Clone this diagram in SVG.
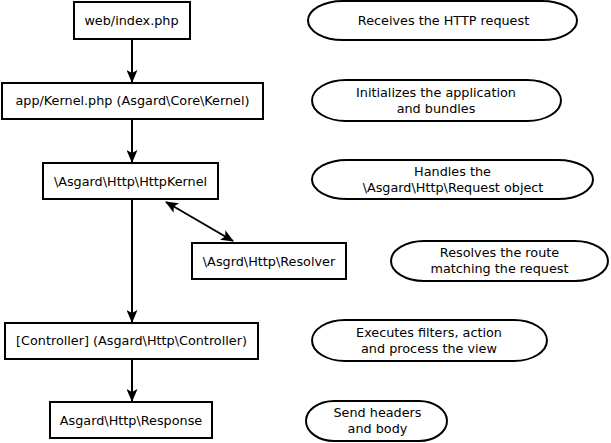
<svg xmlns="http://www.w3.org/2000/svg" width="611" height="443" viewBox="0 0 611 443">
<style>
.box{fill:#fff;stroke:#000;stroke-width:2}
.ell{fill:#fff;stroke:#000;stroke-width:2}
.t{font-family:"DejaVu Sans",sans-serif;font-size:12.8px;fill:#000;text-anchor:middle}
.c{stroke:#000;stroke-width:2;fill:none}
</style>
<defs>
<marker id="ah" viewBox="0 0 13 11" refX="12" refY="5.5" markerWidth="13" markerHeight="11" markerUnits="userSpaceOnUse" orient="auto-start-reverse">
<path d="M0,0 L13,5.5 L0,11 L3,5.5 Z" fill="#000"/>
</marker>
</defs>
<g id="connectors">
<line class="c" x1="132" y1="39" x2="132" y2="82" marker-end="url(#ah)"/>
<line class="c" x1="132" y1="119" x2="132" y2="162" marker-end="url(#ah)"/>
<line class="c" x1="132" y1="200" x2="132" y2="322" marker-end="url(#ah)"/>
<line class="c" x1="132" y1="359" x2="132" y2="401" marker-end="url(#ah)"/>
<line class="c" x1="166" y1="202" x2="233" y2="241" marker-start="url(#ah)" marker-end="url(#ah)"/>
</g>
<g id="n-index"><rect class="box" x="74" y="2" width="116" height="37"/><text class="t" x="131.5" y="25">web/index.php</text></g>
<g id="n-kernel"><rect class="box" x="2" y="83" width="261" height="36"/><text class="t" x="132.5" y="105">app/Kernel.php (Asgard\Core\Kernel)</text></g>
<g id="n-httpkernel"><rect class="box" x="43" y="163" width="175" height="36"/><text class="t" x="130.5" y="185.5">\Asgard\Http\HttpKernel</text></g>
<g id="n-resolver"><rect class="box" x="192" y="243" width="154" height="36"/><text class="t" x="269" y="265.5">\Asgrd\Http\Resolver</text></g>
<g id="n-controller"><rect class="box" x="5" y="323" width="253" height="36"/><text class="t" x="131.5" y="345">[Controller] (Asgard\Http\Controller)</text></g>
<g id="n-response"><rect class="box" x="50" y="402" width="162" height="36"/><text class="t" x="131" y="424.5">Asgard\Http\Response</text></g>
<g id="e1"><path class="ell" d="M343,1 H542 A35,19.5 0 0 1 542,40 H343 A35,19.5 0 0 1 343,1 Z"/><text class="t" x="443.5" y="25">Receives the HTTP request</text></g>
<g id="e2"><path class="ell" d="M346,80 H527 A34,20.5 0 0 1 527,121 H346 A34,20.5 0 0 1 346,80 Z"/><text class="t" x="436" y="97">Initializes the application</text><text class="t" x="436" y="113">and bundles</text></g>
<g id="e3"><path class="ell" d="M347,160 H558 A35,19.5 0 0 1 558,199 H347 A35,19.5 0 0 1 347,160 Z"/><text class="t" x="452.5" y="176">Handles the</text><text class="t" x="453" y="192">\Asgard\Http\Request object</text></g>
<g id="e4"><path class="ell" d="M424,241 H575 A33,20 0 0 1 575,281 H424 A33,20 0 0 1 424,241 Z"/><text class="t" x="499.5" y="257">Resolves the route</text><text class="t" x="499.5" y="273">matching the request</text></g>
<g id="e5"><path class="ell" d="M345,320 H514 A33,20.5 0 0 1 514,361 H345 A33,20.5 0 0 1 345,320 Z"/><text class="t" x="429" y="337">Executes filters, action</text><text class="t" x="429" y="353">and process the view</text></g>
<g id="e6"><path class="ell" d="M334,401 H419 A28,20 0 0 1 419,441 H334 A28,20 0 0 1 334,401 Z"/><text class="t" x="377.5" y="417">Send headers</text><text class="t" x="377.5" y="433">and body</text></g>
</svg>
